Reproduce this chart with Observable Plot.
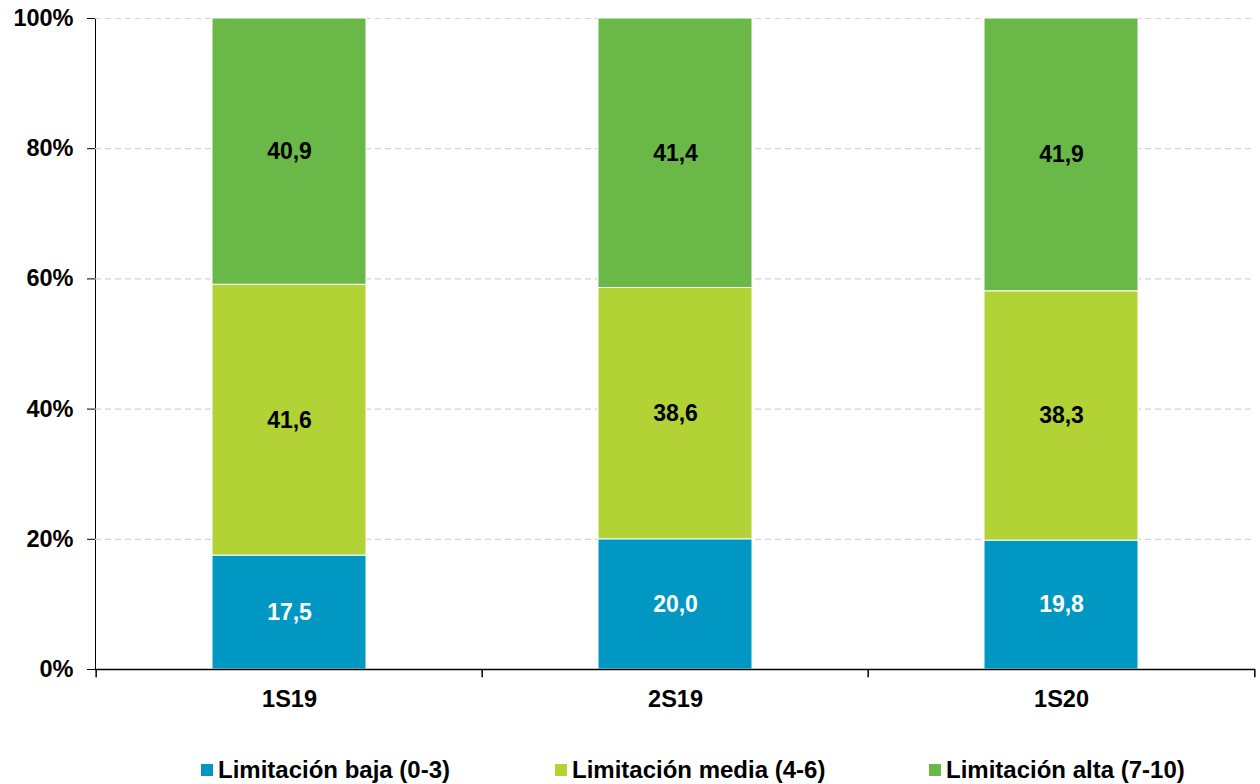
<!DOCTYPE html>
<html>
<head>
<meta charset="utf-8">
<script src="https://cdn.jsdelivr.net/npm/d3@7"></script>
<script src="https://cdn.jsdelivr.net/npm/@observablehq/plot@0.6"></script>
<style>
  html, body { margin: 0; padding: 0; background: #fff; }
  body { width: 1260px; height: 784px; overflow: hidden; font-family: "Liberation Sans", Arial, sans-serif; }
  #legend { position: relative; height: 54px; font-weight: bold; font-size: 24px; color: #000; }
  .item { position: absolute; top: 20px; display: flex; align-items: center; height: 40px; }
  .sw { width: 12px; height: 12px; margin-right: 5px; }
</style>
</head>
<body>
<div id="chart"></div>
<div id="legend"></div>
<script>
const periods = ["1S19", "2S19", "1S20"];
const series = ["Limitación baja (0-3)", "Limitación media (4-6)", "Limitación alta (7-10)"];
const colors = ["#0098C3", "#B2D235", "#69B848"];
const baja = [17.5, 20.0, 19.8];
const media = [41.6, 38.6, 38.3];
const alta = [40.9, 41.4, 41.9];
const yTicks = [0, 20, 40, 60, 80, 100];
const gridTicks = [20, 40, 60, 80, 100];
const legendX = [201, 555, 929];

const values = [baja, media, alta];
const data = [];
periods.forEach((p, i) => {
  series.forEach((s, j) => {
    data.push({period: p, series: s, idx: j, value: values[j][i]});
  });
});

const W = 1260, mL = 95, mR = 5;
const step = (W - mL - mR) / periods.length;

const fmt = v => v.toFixed(1).replace(".", ",");

const chart = Plot.plot({
  width: W,
  height: 730,
  marginLeft: mL,
  marginRight: mR,
  marginTop: 18,
  marginBottom: 61,
  style: {fontFamily: "'Liberation Sans', Arial, sans-serif", fontSize: "23.5px", fontWeight: "bold", color: "#000", background: "#fff", overflow: "visible"},
  x: {domain: periods, paddingInner: 0.6, paddingOuter: 0.3, axis: "bottom", tickSize: 0, tickPadding: 21, label: null},
  y: {domain: [0, 100], axis: "left", ticks: yTicks, tickFormat: d => d + "%", tickSize: 8, tickPadding: 14, label: null, line: true},
  color: {type: "identity"},
  marks: [
    Plot.ruleY(gridTicks, {stroke: "#d4d4d4", strokeWidth: 1.2, strokeDasharray: "6,4"}),
    Plot.barY(data, {x: "period", y: "value", fill: d => colors[d.idx], stroke: "#fff", strokeWidth: 1}),
    Plot.text(data, Plot.stackY({x: "period", y: "value", text: d => fmt(d.value), fill: d => d.idx === 0 ? "#fff" : "#000", fontSize: 23, fontWeight: "bold"})),
    Plot.ruleY([0], {stroke: "#000", strokeWidth: 1.5}),
    Plot.ruleX(periods, {x: d => d, dx: -step / 2, y1: 0, y2: -1.25, stroke: "#000", strokeWidth: 1.5}),
    Plot.ruleX(periods.slice(-1), {x: d => d, dx: step / 2, y1: 0, y2: -1.25, stroke: "#000", strokeWidth: 1.5})
  ]
});
document.getElementById("chart").appendChild(chart);

const legend = document.getElementById("legend");
series.forEach((s, j) => {
  const it = document.createElement("div");
  it.className = "item";
  it.style.left = legendX[j] + "px";
  const sw = document.createElement("div");
  sw.className = "sw";
  sw.style.background = colors[j];
  const tx = document.createElement("span");
  tx.textContent = s;
  it.appendChild(sw);
  it.appendChild(tx);
  legend.appendChild(it);
});
</script>
</body>
</html>
